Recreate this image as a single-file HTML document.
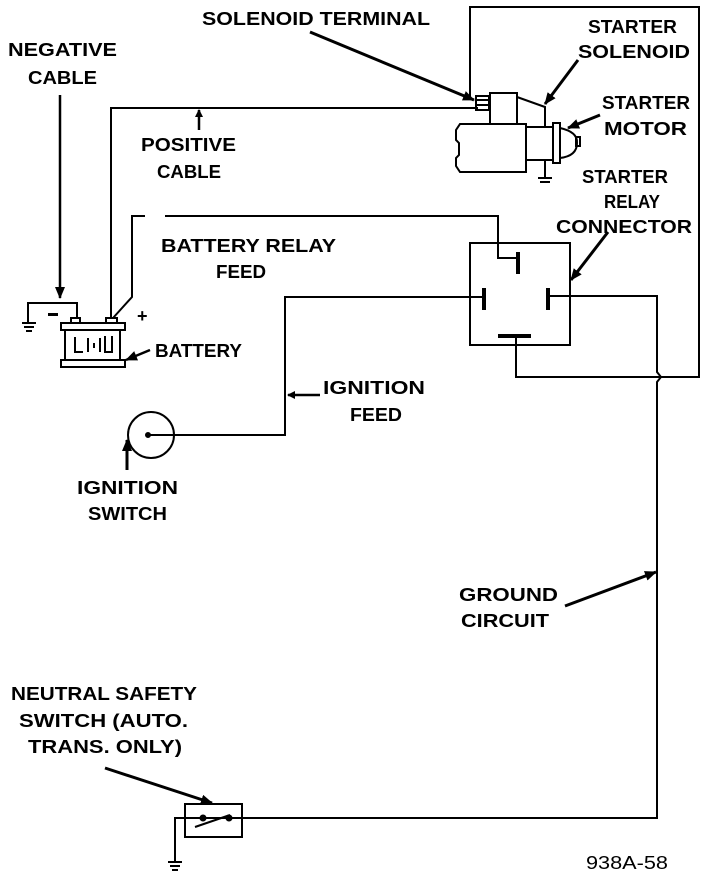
<!DOCTYPE html>
<html><head><style>
html,body{margin:0;padding:0;background:#fff;}
svg{display:block;}
text{font-family:"Liberation Sans",sans-serif;font-weight:bold;font-size:18px;fill:#000;}
</style></head><body>
<svg width="720" height="884" viewBox="0 0 720 884" xmlns="http://www.w3.org/2000/svg">
<defs><marker id="a" markerWidth="8" markerHeight="8" refX="7" refY="4" orient="auto" markerUnits="userSpaceOnUse"><path d="M0,0 L8,4 L0,8 z" fill="#000"/></marker>
<marker id="b" markerWidth="12" markerHeight="10" refX="11" refY="5" orient="auto" markerUnits="userSpaceOnUse"><path d="M0,0 L12,5 L0,10 z" fill="#000"/></marker></defs>
<g fill="none" stroke="#000" stroke-width="2">
<polyline points="470,97 470,7 699,7 699,377 516,377 516,338"/>
<polyline points="111,318 111,108 478,108"/>
<line x1="60" y1="95" x2="60" y2="298" stroke-width="2.5" marker-end="url(#b)"/>
<polyline points="28,322 28,303 77,303 77,318"/>
<line x1="22" y1="323" x2="36" y2="323"/><line x1="24" y1="327" x2="34" y2="327"/><line x1="26" y1="331" x2="32" y2="331"/>
<rect x="61" y="323" width="64" height="7"/>
<rect x="65" y="330" width="55" height="30"/>
<rect x="61" y="360" width="64" height="7"/>
<rect x="71" y="318" width="9" height="5"/><rect x="106" y="318" width="11" height="5"/>
<polyline points="75,337 75,352 83,352"/><line x1="88" y1="338" x2="88" y2="352"/><line x1="94" y1="343" x2="94" y2="348"/><line x1="100" y1="338" x2="100" y2="352"/><polyline points="105,336 105,352 112,352 112,336"/>
<line x1="150" y1="350" x2="126" y2="360" stroke-width="2.5" marker-end="url(#b)"/>
<polyline points="113,318 132,297 132,216 145,216"/>
<polyline points="165,216 498,216 498,258 518,258"/>
<rect x="470" y="243" width="100" height="102"/>
<line x1="518" y1="252" x2="518" y2="274" stroke-width="4"/>
<line x1="484" y1="288" x2="484" y2="310" stroke-width="4"/>
<line x1="548" y1="288" x2="548" y2="310" stroke-width="4"/>
<line x1="498" y1="336" x2="531" y2="336" stroke-width="4"/>
<polyline points="550,296 657,296 657,372 661,377 657,382 657,818 175,818 175,862"/>
<line x1="168" y1="862" x2="182" y2="862"/><line x1="170" y1="866" x2="180" y2="866"/><line x1="172" y1="870" x2="178" y2="870"/>
<circle cx="151" cy="435" r="23"/>
<circle cx="148" cy="435" r="2" fill="#000"/>
<polyline points="148,435 174,435 285,435 285,297 484,297"/>
<line x1="127" y1="470" x2="127" y2="440" stroke-width="3" marker-end="url(#b)"/>
<line x1="320" y1="395" x2="288" y2="395" stroke-width="2.5" marker-end="url(#a)"/>
<rect x="476" y="96" width="13" height="14"/>
<line x1="476" y1="100" x2="489" y2="100"/><line x1="476" y1="105" x2="489" y2="105"/>
<rect x="490" y="93" width="27" height="31"/>
<polyline points="517,97 545,107 545,127"/>
<path d="M456,130 l4,-6 h66 v48 h-66 l-4,-6 v-8 l3,-3 v-12 l-3,-3 z"/>
<rect x="526" y="127" width="27" height="33"/>
<rect x="553" y="123" width="7" height="40"/>
<path d="M560,128 q18,4 17,15 q0,13 -17,15"/>
<rect x="576" y="137" width="4" height="9"/>
<polyline points="545,160 545,178"/>
<line x1="538" y1="178" x2="552" y2="178"/><line x1="540" y1="182" x2="550" y2="182"/>
<rect x="185" y="804" width="57" height="33"/>
<line x1="195" y1="827" x2="230" y2="815"/>
<circle cx="203" cy="818" r="2.5" fill="#000"/><circle cx="229" cy="818" r="2.5" fill="#000"/>
<line x1="175" y1="818" x2="242" y2="818"/>
<line x1="105" y1="768" x2="212" y2="803" stroke-width="3" marker-end="url(#b)"/>
<line x1="310" y1="32" x2="474" y2="100" stroke-width="3" marker-end="url(#b)"/>
<line x1="578" y1="60" x2="545" y2="104" stroke-width="3" marker-end="url(#b)"/>
<line x1="600" y1="115" x2="568" y2="128" stroke-width="3" marker-end="url(#b)"/>
<line x1="608" y1="232" x2="571" y2="280" stroke-width="3" marker-end="url(#b)"/>
<line x1="565" y1="606" x2="656" y2="572" stroke-width="3" marker-end="url(#b)"/>
<line x1="199" y1="130" x2="199" y2="110" stroke-width="2.5" marker-end="url(#a)"/>
</g>
<g lengthAdjust="spacingAndGlyphs">
<text x="8" y="56" textLength="109" lengthAdjust="spacingAndGlyphs">NEGATIVE</text><text x="28" y="84" textLength="69" lengthAdjust="spacingAndGlyphs">CABLE</text>
<text x="202" y="25" textLength="228" lengthAdjust="spacingAndGlyphs">SOLENOID TERMINAL</text>
<text x="588" y="33" textLength="89" lengthAdjust="spacingAndGlyphs">STARTER</text><text x="578" y="58" textLength="112" lengthAdjust="spacingAndGlyphs">SOLENOID</text>
<text x="602" y="109" textLength="88" lengthAdjust="spacingAndGlyphs">STARTER</text><text x="604" y="135" textLength="83" lengthAdjust="spacingAndGlyphs">MOTOR</text>
<text x="582" y="183" textLength="86" lengthAdjust="spacingAndGlyphs">STARTER</text><text x="604" y="208" textLength="56" lengthAdjust="spacingAndGlyphs">RELAY</text><text x="556" y="233" textLength="136" lengthAdjust="spacingAndGlyphs">CONNECTOR</text>
<text x="141" y="151" textLength="95" lengthAdjust="spacingAndGlyphs">POSITIVE</text><text x="157" y="178" textLength="64" lengthAdjust="spacingAndGlyphs">CABLE</text>
<text x="161" y="252" textLength="175" lengthAdjust="spacingAndGlyphs">BATTERY RELAY</text><text x="216" y="278" textLength="50" lengthAdjust="spacingAndGlyphs">FEED</text>
<text x="137" y="322" font-size="20">+</text>
<rect x="48" y="313" width="10" height="3" fill="#000"/>
<text x="155" y="357" textLength="87" lengthAdjust="spacingAndGlyphs">BATTERY</text>
<text x="323" y="394" textLength="102" lengthAdjust="spacingAndGlyphs">IGNITION</text><text x="350" y="421" textLength="52" lengthAdjust="spacingAndGlyphs">FEED</text>
<text x="77" y="494" textLength="101" lengthAdjust="spacingAndGlyphs">IGNITION</text><text x="88" y="520" textLength="79" lengthAdjust="spacingAndGlyphs">SWITCH</text>
<text x="459" y="601" textLength="99" lengthAdjust="spacingAndGlyphs">GROUND</text><text x="461" y="627" textLength="88" lengthAdjust="spacingAndGlyphs">CIRCUIT</text>
<text x="11" y="700" textLength="186" lengthAdjust="spacingAndGlyphs">NEUTRAL SAFETY</text><text x="19" y="727" textLength="169" lengthAdjust="spacingAndGlyphs">SWITCH (AUTO.</text><text x="28" y="753" textLength="154" lengthAdjust="spacingAndGlyphs">TRANS. ONLY)</text>
<text x="586" y="869" textLength="82" lengthAdjust="spacingAndGlyphs" style="font-weight:normal">938A-58</text>
</g>
</svg>
</body></html>
